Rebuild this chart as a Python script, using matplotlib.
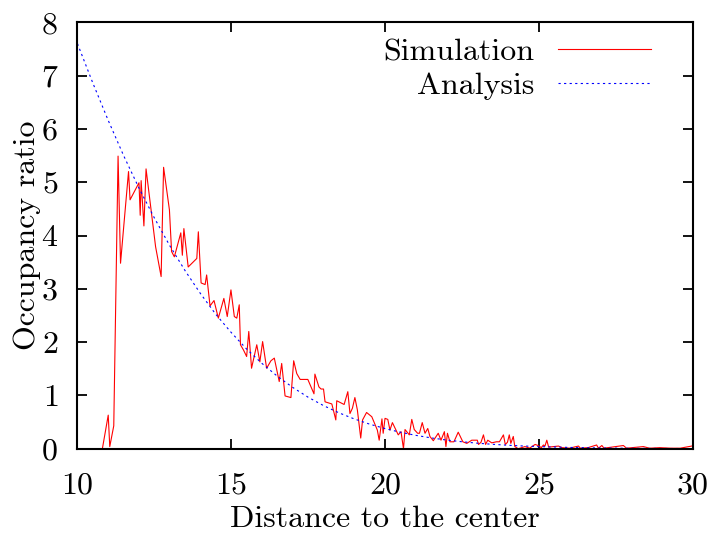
import matplotlib
matplotlib.use("Agg")
import matplotlib.pyplot as plt

# Fonte parecida com a do gnuplot/LaTeX
plt.rcParams['font.family'] = 'cmr10'
plt.rcParams['mathtext.fontset'] = 'cm'
plt.rcParams['axes.formatter.use_mathtext'] = True

# Dados da simulacao
sim_x = [10.81, 11.00, 11.05, 11.18, 11.32, 11.40, 11.66, 11.71, 12.00, 12.04,
         12.07, 12.16, 12.23, 12.54, 12.72, 12.80, 12.99, 13.06, 13.15, 13.36,
         13.41, 13.46, 13.60, 13.88, 13.93, 14.02, 14.15, 14.20, 14.31, 14.44,
         14.58, 14.76, 14.87, 14.99, 15.10, 15.18, 15.26, 15.30, 15.40, 15.50,
         15.57, 15.66, 15.83, 15.93, 16.02, 16.15, 16.29, 16.40, 16.56, 16.64,
         16.75, 16.94, 17.03, 17.13, 17.24, 17.49, 17.69, 17.72, 17.85, 17.92,
         18.00, 18.05, 18.27, 18.40, 18.43, 18.67, 18.79, 18.86, 18.94, 19.02,
         19.10, 19.21, 19.27, 19.40, 19.57, 19.75, 19.81, 19.90, 19.94, 20.00,
         20.09, 20.16, 20.24, 20.43, 20.52, 20.60, 20.65, 20.79, 20.87, 20.95,
         21.06, 21.12, 21.21, 21.30, 21.39, 21.46, 21.57, 21.73, 21.82, 21.93,
         21.98, 22.03, 22.11, 22.24, 22.38, 22.53, 22.66, 22.82, 23.00, 23.04,
         23.12, 23.20, 23.27, 23.34, 23.47, 23.62, 23.72, 23.85, 23.91, 23.98,
         24.04, 24.09, 24.17, 24.22, 24.33, 24.55, 24.70, 24.88, 24.98, 25.08,
         25.15, 25.20, 25.26, 25.32, 25.64, 25.75, 26.00, 26.29, 26.35, 26.60,
         26.88, 26.94, 27.05, 27.12, 27.75, 27.85, 28.40, 28.60, 28.93, 29.30,
         29.60, 29.97]
sim_y = [0.00, 0.63, 0.04, 0.43, 5.49, 3.48, 5.20, 4.67, 4.99, 4.38,
         5.03, 4.18, 5.25, 3.79, 3.23, 5.28, 4.48, 3.70, 3.60, 4.05,
         3.63, 4.13, 3.41, 3.57, 4.07, 3.11, 3.08, 3.26, 2.68, 2.78,
         2.45, 2.82, 2.48, 2.98, 2.48, 2.45, 2.70, 1.95, 1.85, 1.73,
         2.20, 1.51, 1.95, 1.63, 2.01, 1.51, 1.65, 1.70, 1.26, 1.60,
         0.99, 0.96, 1.65, 1.41, 1.30, 1.30, 1.03, 1.40, 1.16, 1.12,
         1.12, 0.88, 0.84, 0.54, 0.90, 0.83, 1.07, 0.66, 0.76, 0.96,
         0.73, 0.20, 0.54, 0.68, 0.60, 0.35, 0.16, 0.56, 0.29, 0.57,
         0.55, 0.35, 0.49, 0.26, 0.32, 0.00, 0.36, 0.26, 0.55, 0.36,
         0.29, 0.29, 0.49, 0.29, 0.38, 0.23, 0.15, 0.29, 0.16, 0.32,
         0.04, 0.29, 0.13, 0.13, 0.31, 0.13, 0.10, 0.16, 0.16, 0.08,
         0.12, 0.26, 0.08, 0.16, 0.11, 0.13, 0.13, 0.26, 0.08, 0.12,
         0.26, 0.10, 0.23, 0.04, 0.00, 0.04, 0.01, 0.08, 0.06, 0.02,
         0.07, 0.05, 0.16, 0.03, 0.05, 0.02, 0.01, 0.05, 0.01, 0.02,
         0.07, 0.01, 0.06, 0.01, 0.06, 0.01, 0.04, 0.01, 0.02, 0.01,
         0.01, 0.05]

# Curva analitica
ana_x = [10.0, 10.5, 11.0, 11.5, 12.0, 12.5, 13.0, 13.5, 14.0, 14.5,
         15.0, 15.5, 16.0, 16.5, 17.0, 17.5, 18.0, 18.5, 19.0, 19.5,
         20.0, 20.5, 21.0, 21.5, 22.0, 22.5, 23.0, 23.5, 24.0, 24.5,
         25.0, 26.0, 27.0, 28.0, 29.0, 30.0]
ana_y = [7.60, 6.86, 6.16, 5.50, 4.89, 4.33, 3.81, 3.34, 2.91, 2.52,
         2.18, 1.87, 1.60, 1.36, 1.15, 0.966, 0.809, 0.674, 0.559, 0.461,
         0.378, 0.309, 0.251, 0.203, 0.163, 0.131, 0.104, 0.083, 0.065, 0.051,
         0.040, 0.024, 0.014, 0.008, 0.0045, 0.0025]

fig = plt.figure(figsize=(7.14, 5.34), dpi=100)
ax = fig.add_axes([0.1085, 0.1597, 0.8615, 0.7985])

ax.plot(sim_x, sim_y, color='red', linewidth=0.8, label='Simulation')
ax.plot(ana_x, ana_y, color='blue', linewidth=0.8, linestyle=(0, (2, 3)), label='Analysis')

ax.set_xlim(10, 30)
ax.set_ylim(0, 8)
ax.set_xticks([10, 15, 20, 25, 30])
ax.set_yticks(range(0, 9))

ax.set_xlabel('Distance to the center', fontsize=23, labelpad=4)
ax.set_ylabel('Occupancy ratio', fontsize=23, labelpad=0)

ax.tick_params(direction='in', top=True, right=True, length=7, width=1.3,
               labelsize=23)
ax.tick_params(axis='x', pad=17)
ax.tick_params(axis='y', pad=14)
for s in ax.spines.values():
    s.set_linewidth(1.5)

ax.legend(loc='upper right', frameon=False, markerfirst=False, fontsize=23,
          handlelength=2.9, handletextpad=0.75, labelspacing=0.15,
          bbox_to_anchor=(0.968, 1.015), borderaxespad=0.3)

fig.savefig('out.png', dpi=100)
